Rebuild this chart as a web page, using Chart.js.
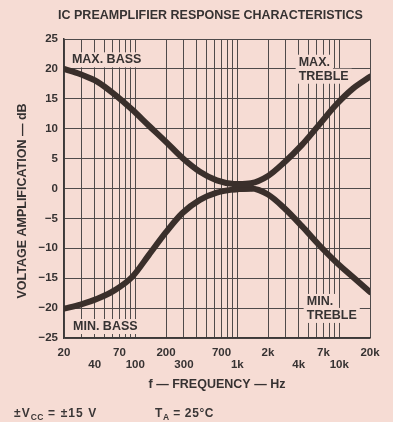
<!DOCTYPE html>
<html>
<head>
<meta charset="utf-8">
<script src="https://cdn.jsdelivr.net/npm/chart.js@4.4.1/dist/chart.umd.min.js"></script>
<style>
  html, body { margin: 0; padding: 0; background: #f6dcd4; }
  #wrap { position: relative; width: 393px; height: 422px; }
  canvas { display: block; }
  .foot { position: absolute; top: 406px; font: bold 12px "Liberation Sans", Arial, sans-serif; letter-spacing: 0.6px; color: #3a3636; white-space: nowrap; }
  .foot sub { font-size: 8.5px; vertical-align: -3px; line-height: 0; letter-spacing: 0.3px; }
</style>
</head>
<body>
<div id="wrap">
  <canvas id="c" width="393" height="422"></canvas>
  <div class="foot" style="left:14px; letter-spacing:1.1px;">±V<sub>CC</sub> = ±15 V</div>
  <div class="foot" style="left:155px;">T<sub>A</sub> = 25°C</div>
</div>
<script>
// ---- data ----
const bassFreqs   = [20, 29, 43, 63, 93, 136, 200, 290, 430, 630, 930, 1360];
const maxBassDb   = [20.0, 19.1, 17.8, 15.7, 13.2, 10.5, 7.8, 5.1, 2.8, 1.35, 0.75, 0.7];
const minBassDb   = [-20.1, -19.4, -18.4, -17.0, -14.8, -11.1, -7.3, -4.1, -1.9, -0.7, -0.15, 0.0];

const trebleFreqs = [930, 1360, 2000, 2900, 4300, 6300, 9300, 13600, 20000];
const maxTrebleDb = [0.75, 0.9, 2.1, 4.4, 7.3, 10.6, 14.0, 16.7, 18.7];
const minTrebleDb = [-0.15, 0.0, -1.0, -3.3, -6.3, -9.4, -12.3, -14.8, -17.3];

// grid / tick values
const gridFreqs = [20, 30, 40, 50, 60, 70, 80, 90,
                   100, 200, 300, 400, 500, 600, 700, 800, 900,
                   1000, 2000, 3000, 4000, 5000, 6000, 7000, 8000, 9000,
                   10000, 20000];
const upperTickValues = [20, 70, 200, 700, 2000, 7000, 20000];
const upperTickLabels = ['20', '70', '200', '700', '2k', '7k', '20k'];
const lowerTickValues = [40, 100, 300, 1000, 4000, 10000];
const lowerTickLabels = ['40', '100', '300', '1k', '4k', '10k'];
const yTickValues = [-25, -20, -15, -10, -5, 0, 5, 10, 15, 20, 25];
const yTickLabels = ['\u221225', '\u221220', '\u221215', '\u221210', '\u22125', '0', '5', '10', '15', '20', '25'];

const FONT = '"Liberation Sans", Arial, Helvetica, sans-serif';
const TXT = '#363232';
const CURVE = '#3a2f2b';
const GRID = '#4f4a4a';
const BG = '#f6dcd4';

function pts(xs, ys) { return xs.map((x, i) => ({ x: x, y: ys[i] })); }

const curveLabelPlugin = {
  id: 'curveLabels',
  beforeDatasetsDraw(chart, args, opts) {
    const ctx = chart.ctx;
    const xs = chart.scales.x, ys = chart.scales.y;
    ctx.save();
    ctx.font = 'bold ' + opts.size + 'px ' + FONT;
    ctx.textBaseline = 'middle';
    ctx.textAlign = 'left';
    opts.items.forEach(it => {
      const x0 = xs.getPixelForValue(it.freq);
      const y0 = ys.getPixelForValue(it.db);
      it.lines.forEach((t, i) => {
        const cy = y0 + i * opts.lineGap;
        const w = ctx.measureText(t).width;
        ctx.fillStyle = opts.bg;
        ctx.fillRect(x0 - 3, cy - 7, w + 6, 15);
      });
      it.lines.forEach((t, i) => {
        const cy = y0 + i * opts.lineGap;
        ctx.fillStyle = TXT;
        ctx.fillText(t, x0, cy + 0.5);
      });
    });
    ctx.restore();
  }
};

const ds = (label, data) => ({
  label: label,
  data: data,
  borderColor: CURVE,
  borderWidth: 6,
  pointRadius: 0,
  fill: false,
  cubicInterpolationMode: 'monotone',
  borderCapStyle: 'round',
  borderJoinStyle: 'round'
});

new Chart(document.getElementById('c'), {
  type: 'line',
  data: {
    datasets: [
      ds('MAX. BASS', pts(bassFreqs, maxBassDb)),
      ds('MIN. BASS', pts(bassFreqs, minBassDb)),
      ds('MAX. TREBLE', pts(trebleFreqs, maxTrebleDb)),
      ds('MIN. TREBLE', pts(trebleFreqs, minTrebleDb))
    ]
  },
  plugins: [curveLabelPlugin],
  options: {
    responsive: false,
    animation: false,
    layout: { padding: { left: 28, right: 0, top: 0, bottom: 30 } },
    plugins: {
      legend: { display: false },
      tooltip: { enabled: false },
      title: {
        display: true,
        text: 'IC PREAMPLIFIER RESPONSE CHARACTERISTICS',
        color: TXT,
        font: { family: FONT, size: 12.5, weight: 'bold', lineHeight: 1.2 },
        padding: { top: 8, bottom: 16 }
      },
      curveLabels: {
        size: 12.5,
        lineGap: 14,
        bg: BG,
        items: [
          { lines: ['MAX. BASS'], freq: 23.9, db: 21.6 },
          { lines: ['MIN. BASS'], freq: 24.5, db: -23.0 },
          { lines: ['MAX.', 'TREBLE'], freq: 4000, db: 21.2 },
          { lines: ['MIN.', 'TREBLE'], freq: 4800, db: -18.8 }
        ]
      }
    },
    scales: {
      x: {
        type: 'logarithmic',
        min: 20,
        max: 20000,
        afterBuildTicks(scale) { scale.ticks = gridFreqs.map(v => ({ value: v })); },
        afterFit(scale) { scale.height = 54; },
        grid: { color: GRID, lineWidth: 1, drawTicks: false },
        border: { color: '#3c3838', width: 1.5 },
        ticks: {
          autoSkip: false,
          maxRotation: 0,
          minRotation: 0,
          padding: 9,
          color: TXT,
          font: { family: FONT, size: 11.5, weight: 'bold', lineHeight: 1.05 },
          callback(value) {
            const a = upperTickValues.indexOf(value);
            if (a >= 0) return [upperTickLabels[a], ''];
            const b = lowerTickValues.indexOf(value);
            if (b >= 0) return ['', lowerTickLabels[b]];
            return '';
          }
        },
        title: {
          display: true,
          text: 'f \u2014 FREQUENCY \u2014 Hz',
          color: TXT,
          font: { family: FONT, size: 12.5, weight: 'bold', lineHeight: 1.2 },
          padding: { top: 0, bottom: 0 }
        }
      },
      y: {
        min: -25,
        max: 25,
        afterBuildTicks(scale) { scale.ticks = yTickValues.map(v => ({ value: v })); },
        afterFit(scale) { scale.width = 36; },
        grid: { color: GRID, lineWidth: 1, drawTicks: false },
        border: { color: '#3c3838', width: 1.5 },
        ticks: {
          padding: 6,
          color: TXT,
          font: { family: FONT, size: 11.5, weight: 'bold' },
          callback(value) {
            const i = yTickValues.indexOf(value);
            return i >= 0 ? yTickLabels[i] : '';
          }
        },
        title: {
          display: true,
          text: 'VOLTAGE AMPLIFICATION \u2014 dB\u2003\u2003',
          color: TXT,
          font: { family: FONT, size: 12.5, weight: 'bold', lineHeight: 1.2 },
          padding: { top: -12.5, bottom: 0 }
        }
      },
      yPad: {
        type: 'linear',
        position: 'right',
        display: true,
        afterFit(scale) { scale.width = 23; },
        grid: { display: false, drawTicks: false },
        border: { display: false },
        ticks: { display: false }
      }
    }
  }
});
</script>
</body>
</html>
